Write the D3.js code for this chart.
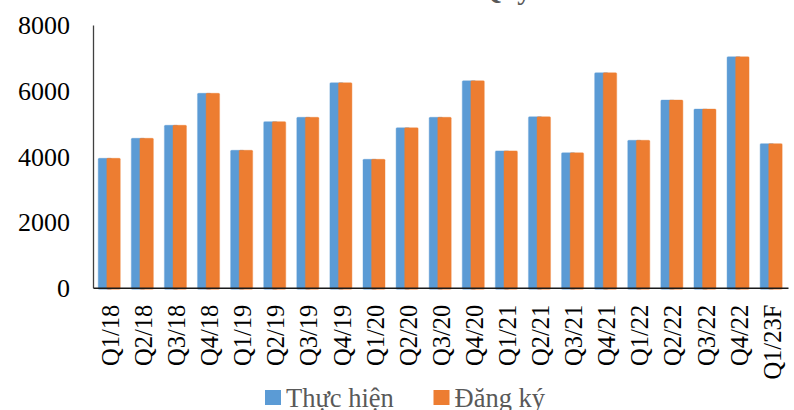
<!DOCTYPE html>
<html>
<head>
<meta charset="utf-8">
<script src="https://cdn.jsdelivr.net/npm/d3@7"></script>
<style>
  html, body { margin: 0; padding: 0; background: #fff; }
  svg { display: block; }
</style>
</head>
<body>
<svg id="chart" width="794" height="410"></svg>
<script>
// Quarterly values, 2018 – Q1/2023 (forecast)
const categories = ["Q1/18","Q2/18","Q3/18","Q4/18","Q1/19","Q2/19","Q3/19","Q4/19",
  "Q1/20","Q2/20","Q3/20","Q4/20","Q1/21","Q2/21","Q3/21","Q4/21",
  "Q1/22","Q2/22","Q3/22","Q4/22","Q1/23F"];
const thucHien = [3940, 4550, 4945, 5920, 4185, 5055, 5190, 6240,
  3910, 4870, 5190, 6300, 4165, 5205, 4110, 6545,
  4490, 5715, 5440, 7030, 4385];
const dangKy = [3940, 4550, 4945, 5920, 4185, 5055, 5190, 6240,
  3910, 4870, 5190, 6300, 4165, 5205, 4110, 6545,
  4490, 5715, 5440, 7030, 4385];
const yTicks = [0, 2000, 4000, 6000, 8000];
const seriesNames = ["Thực hiện", "Đăng ký"];
const seriesColors = ["#5B9BD5", "#ED7D31"];
const titleText = "Quý";

const svg = d3.select("#chart");
const serif = "'Liberation Serif', 'Times New Roman', serif";

const plot = { left: 93, right: 788, top: 25, bottom: 287.7 };

const x = d3.scaleBand().domain(categories).range([plot.left, plot.right]).padding(0);
const y = d3.scaleLinear().domain([0, 8000]).range([plot.bottom, plot.top]);

const bw = x.bandwidth();
const barW = bw * 0.405;
const shift = barW * 0.64;

// Title (runs off the top edge)
svg.append("text")
  .attr("x", 480).attr("y", -1)
  .attr("font-family", serif).attr("font-size", 28).attr("font-weight", "bold")
  .attr("fill", "#595959")
  .text(titleText);

// Bars: two series, second overlapping the first
const series = [thucHien, dangKy];
series.forEach((vals, si) => {
  svg.append("g")
    .selectAll("rect")
    .data(categories.map((c, i) => ({ c, v: vals[i] })))
    .join("rect")
    .attr("x", d => x(d.c) + bw / 2 - barW / 2 - shift / 2 + si * shift - 0.3)
    .attr("y", d => y(d.v))
    .attr("width", barW)
    .attr("height", d => y(0) - y(d.v) + 1.5)
    .attr("fill", seriesColors[si])
    .attr("stroke", seriesColors[si])
    .attr("stroke-opacity", 0.35)
    .attr("stroke-width", 1.2)
    .attr("rx", 1);
});

// Y axis
const yAxis = d3.axisLeft(y).tickValues(yTicks).tickFormat(d3.format("d"))
  .tickSize(0).tickPadding(23);
const gy = svg.append("g").attr("transform", `translate(${plot.left},0)`).call(yAxis);
gy.select(".domain").attr("stroke", "#404040").attr("stroke-width", 1.3);
gy.selectAll("text")
  .attr("font-family", serif).attr("font-size", 26).attr("fill", "#000")
  .attr("dy", "0.34em");

// X axis
const xAxis = d3.axisBottom(x).tickSize(0).tickPadding(0);
const gx = svg.append("g").attr("transform", `translate(0,${plot.bottom})`).call(xAxis);
gx.select(".domain").attr("stroke", "#1a1a1a").attr("stroke-width", 1.5);
gx.selectAll("text")
  .attr("font-family", serif).attr("font-size", 24.5).attr("fill", "#000")
  .attr("text-anchor", "end")
  .attr("transform", "rotate(-90)")
  .attr("x", -17).attr("y", 0)
  .attr("dy", "0.38em");

// Legend
const legend = [
  { name: seriesNames[0], color: seriesColors[0], x: 265 },
  { name: seriesNames[1], color: seriesColors[1], x: 433.5 }
];
const lg = svg.append("g");
legend.forEach(l => {
  lg.append("rect").attr("x", l.x).attr("y", 390).attr("width", 16).attr("height", 15)
    .attr("fill", l.color);
  lg.append("text").attr("x", l.x + 21).attr("y", 407)
    .attr("font-family", serif).attr("font-size", 26.5).attr("fill", "#595959")
    .text(l.name);
});
</script>
</body>
</html>
